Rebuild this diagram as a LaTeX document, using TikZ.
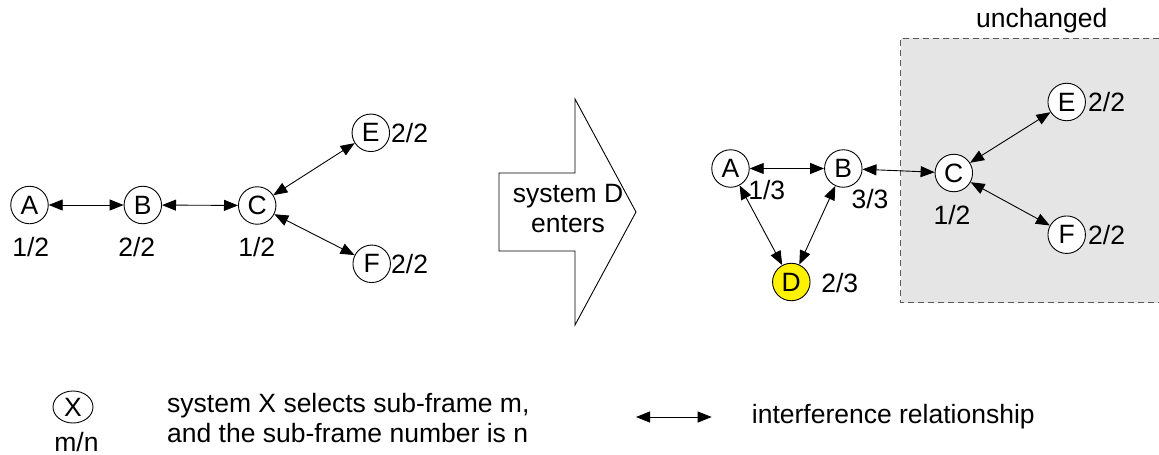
\documentclass[tikz,border=0pt]{standalone}
\usepackage{fontspec}
\setmainfont{Liberation Sans}
\usetikzlibrary{arrows.meta,shapes.geometric}
\begin{document}
\begin{tikzpicture}[x=1pt,y=-1pt,
  every node/.style={font=\fontsize{26.5}{30}\selectfont},
  sys/.style={circle,draw=black,line width=0.9pt,fill=white,minimum size=37.5pt,inner sep=0pt},
  lbl/.style={inner sep=0pt},
  rel/.style={line width=0.9pt,{Triangle[length=14pt,width=11pt]}-{Triangle[length=14pt,width=11pt]}},
]
\useasboundingbox (0,0) rectangle (1159,455);
\fill[white] (0,0) rectangle (1159,455);

% ---------- left graph ----------
\node[sys] (la) at (29.5,205) {A};
\node[sys] (lb) at (142.8,205) {B};
\node[sys] (lc) at (257.2,205.5) {C};
\node[sys] (le) at (370.8,132.8) {E};
\node[sys] (lf) at (371.7,263.8) {F};
\node[lbl] (lal) at (30.8,246.7) {1/2};
\node[lbl] (lbl) at (136.7,246.7) {2/2};
\node[lbl] (lcl) at (256.7,246.7) {1/2};
\node[lbl,anchor=west] (lel) at (391,132.8) {2/2};
\node[lbl,anchor=west] (lfl) at (391,263.8) {2/2};
\draw[rel] (la) -- (lb);
\draw[rel] (lb) -- (lc);
\draw[rel] (lc) -- (le);
\draw[rel] (lc) -- (lf);

% ---------- big arrow ----------
\draw[line width=0.9pt,fill=white] (499,173) -- (575,173) -- (575,99) -- (636,212)
  -- (575,325) -- (575,251) -- (499,251) -- cycle;
\node[lbl,align=center] (enter) at (568,209) {system D\\enters};

% ---------- right graph ----------
\fill[gray!20] (900.7,38.3) rectangle (1159,302.7);
\draw[dashed,dash pattern=on 6pt off 4pt,line width=0.9pt,draw=black!65]
  (1159,38.3) -- (900.7,38.3) -- (900.7,302.7) -- (1159,302.7);
\node[lbl] (unch) at (1041.7,21) {unchanged};

\node[sys] (ra) at (730.5,168.5) {A};
\node[sys] (rb) at (843.3,168.5) {B};
\node[sys] (rc) at (953.8,173) {C};
\node[sys] (re) at (1066.7,102) {E};
\node[sys] (rf) at (1066.7,234.7) {F};
\node[sys,fill=yellow] (rd) at (791.3,282) {D};
\node[lbl] (ral) at (766.7,190) {1/3};
\node[lbl] (rbl) at (870,199) {3/3};
\node[lbl] (rcl) at (952,215) {1/2};
\node[lbl,anchor=west] (rel) at (1088,102) {2/2};
\node[lbl,anchor=west] (rfl) at (1088,234.7) {2/2};
\node[lbl] (rdl) at (839.7,283) {2/3};
\draw[rel] (ra) -- (rb);
\draw[rel] (rb) -- (rc);
\draw[rel] (ra) -- (rd);
\draw[rel] (rb) -- (rd);
\draw[rel] (rc) -- (re);
\draw[rel] (rc) -- (rf);

% ---------- legend ----------
\node[ellipse,draw=black,line width=0.9pt,minimum width=40pt,minimum height=32pt,inner sep=0pt] (lx) at (73,407) {X};
\node[lbl] (lmn) at (76.5,442) {m/n};
\node[lbl,anchor=west,align=left] (ltext) at (167,418) {system X selects sub-frame m,\\and the sub-frame number is n};
\coordinate (ls) at (636,417);
\coordinate (lt) at (711.7,417);
\draw[rel] (ls) -- (lt);
\node[lbl,anchor=west] (lrel) at (751.7,417) {interference relationship};
\end{tikzpicture}
\end{document}
